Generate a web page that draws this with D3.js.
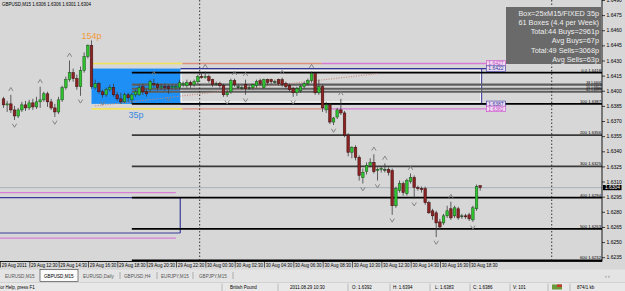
<!DOCTYPE html>
<html>
<head>
<meta charset="utf-8">
<script src="https://cdn.jsdelivr.net/npm/d3@7"></script>
<style>
  body { margin: 0; background: #d7d7d7; }
  svg { display: block; font-family: "Liberation Sans", Arial, sans-serif; }
</style>
</head>
<body>
<div id="chart"></div>
<script>
const W = 625, H = 291;
const plotRight = 602, plotBottom = 261.5;

// GBPUSD M15, bar 0 = 29 Aug 2011 10:30
const open = [1.6392,1.6386,1.6387,1.6381,1.6375,1.6381,1.6386,1.6383,1.6388,1.6384,
  1.6389,1.6391,1.6397,1.6389,1.6383,1.6379,1.6391,1.6403,1.6411,1.6418,
  1.6412,1.6404,1.6420,1.6434,1.6445,1.6403,1.6407,1.6399,1.6396,1.6401,
  1.6403,1.6396,1.6392,1.6389,1.6396,1.6391,1.6396,1.6396,1.6404,1.6399,
  1.6401,1.6407,1.6406,1.6403,1.6404,1.6404,1.6403,1.6403,1.6403,1.6406,
  1.6405,1.6408,1.6406,1.6409,1.6414,1.6413,1.6414,1.6411,1.6407,1.6407,
  1.6405,1.6396,1.6399,1.6410,1.6404,1.6403,1.6406,1.6403,1.6403,1.6405,
  1.6410,1.6403,1.6411,1.6411,1.6409,1.6411,1.6411,1.6407,1.6405,1.6402,
  1.6398,1.6400,1.6404,1.6407,1.6410,1.6417,1.6398,1.6404,1.6381,1.6386,
  1.6369,1.6374,1.6381,1.6378,1.6356,1.6339,1.6344,1.6334,1.6314,1.6320,
  1.6326,1.6329,1.6321,1.6322,1.6322,1.6322,1.6321,1.6286,1.6301,1.6308,
  1.6298,1.6310,1.6314,1.6304,1.6303,1.6303,1.6289,1.6281,1.6279,1.6270,
  1.6269,1.6276,1.6283,1.6276,1.6283,1.6276,1.6276,1.6277,1.6272,1.6283,
  1.6306];
const high = [1.6394,1.6390,1.6396,1.6385,1.6383,1.6389,1.6390,1.6391,1.6392,1.6394,
  1.6404,1.6399,1.6399,1.6392,1.6387,1.6394,1.6405,1.6414,1.6430,1.6422,
  1.6416,1.6424,1.6438,1.6446,1.6450,1.6411,1.6409,1.6401,1.6403,1.6406,
  1.6407,1.6399,1.6398,1.6398,1.6398,1.6398,1.6401,1.6406,1.6407,1.6402,
  1.6411,1.6412,1.6408,1.6407,1.6407,1.6406,1.6406,1.6406,1.6411,1.6409,
  1.6411,1.6410,1.6411,1.6416,1.6418,1.6419,1.6416,1.6412,1.6409,1.6409,
  1.6407,1.6401,1.6412,1.6412,1.6406,1.6405,1.6411,1.6405,1.6407,1.6411,
  1.6412,1.6412,1.6412,1.6412,1.6411,1.6412,1.6413,1.6409,1.6407,1.6404,
  1.6404,1.6406,1.6409,1.6412,1.6419,1.6418,1.6411,1.6406,1.6389,1.6388,
  1.6374,1.6383,1.6392,1.6380,1.6358,1.6345,1.6346,1.6336,1.6323,1.6329,
  1.6333,1.6337,1.6324,1.6325,1.6328,1.6324,1.6323,1.6305,1.6311,1.6310,
  1.6313,1.6318,1.6316,1.6306,1.6305,1.6305,1.6291,1.6283,1.6281,1.6273,
  1.6278,1.6286,1.6290,1.6286,1.6285,1.6278,1.6278,1.6279,1.6286,1.6307,
  1.6306];
const low = [1.6383,1.6379,1.6378,1.6371,1.6373,1.6379,1.6380,1.6381,1.6381,1.6382,
  1.6383,1.6389,1.6384,1.6381,1.6374,1.6377,1.6389,1.6401,1.6409,1.6409,
  1.6401,1.6395,1.6418,1.6432,1.6402,1.6401,1.6397,1.6393,1.6394,1.6399,
  1.6394,1.6390,1.6387,1.6388,1.6389,1.6387,1.6394,1.6395,1.6396,1.6394,
  1.6399,1.6403,1.6400,1.6401,1.6400,1.6397,1.6401,1.6401,1.6401,1.6404,
  1.6403,1.6403,1.6404,1.6407,1.6412,1.6412,1.6408,1.6404,1.6405,1.6403,
  1.6394,1.6394,1.6397,1.6404,1.6402,1.6401,1.6396,1.6401,1.6401,1.6403,
  1.6405,1.6402,1.6406,1.6407,1.6407,1.6405,1.6404,1.6402,1.6399,1.6394,
  1.6395,1.6398,1.6402,1.6405,1.6408,1.6396,1.6396,1.6379,1.6378,1.6367,
  1.6366,1.6372,1.6376,1.6354,1.6335,1.6333,1.6331,1.6311,1.6308,1.6317,
  1.6324,1.6318,1.6311,1.6319,1.6319,1.6316,1.6277,1.6284,1.6299,1.6296,
  1.6296,1.6308,1.6293,1.6301,1.6299,1.6287,1.6278,1.6272,1.6255,1.6263,
  1.6267,1.6274,1.6272,1.6274,1.6272,1.6273,1.6273,1.6271,1.6270,1.6281,
  1.6301];
const close = [1.6386,1.6387,1.6381,1.6375,1.6381,1.6386,1.6383,1.6388,1.6384,1.6389,
  1.6391,1.6397,1.6389,1.6383,1.6379,1.6391,1.6403,1.6411,1.6418,1.6412,
  1.6404,1.6420,1.6434,1.6445,1.6404,1.6407,1.6399,1.6396,1.6401,1.6403,
  1.6396,1.6392,1.6389,1.6396,1.6393,1.6396,1.6399,1.6403,1.6399,1.6397,
  1.6409,1.6406,1.6403,1.6404,1.6403,1.6402,1.6404,1.6404,1.6408,1.6407,
  1.6408,1.6406,1.6409,1.6414,1.6413,1.6414,1.6410,1.6406,1.6407,1.6405,
  1.6396,1.6398,1.6410,1.6406,1.6404,1.6403,1.6402,1.6403,1.6406,1.6409,
  1.6407,1.6411,1.6408,1.6409,1.6409,1.6407,1.6406,1.6404,1.6401,1.6398,
  1.6402,1.6404,1.6407,1.6410,1.6417,1.6398,1.6404,1.6383,1.6386,1.6369,
  1.6373,1.6381,1.6378,1.6356,1.6339,1.6344,1.6334,1.6316,1.6319,1.6326,
  1.6329,1.6320,1.6322,1.6323,1.6322,1.6319,1.6286,1.6303,1.6308,1.6299,
  1.6311,1.6314,1.6304,1.6303,1.6302,1.6289,1.6279,1.6276,1.6269,1.6265,
  1.6276,1.6281,1.6274,1.6284,1.6274,1.6276,1.6275,1.6273,1.6284,1.6305,
  1.6304];

const upFractals = [2,10,18,41,55,63,66,76,84,92,101,104,111,122];
const downFractals = [3,14,21,27,45,61,66,79,90,98,102,106,112,118,128];

const priceTicks = [1.6490,1.6475,1.6460,1.6445,1.6430,1.6415,1.6400,1.6385,1.6370,
  1.6355,1.6340,1.6325,1.6310,1.6295,1.6280,1.6265,1.6250,1.6235];
const timeLabels = ["29 Aug 2011","29 Aug 12:30","29 Aug 14:30","29 Aug 16:30","29 Aug 18:30",
  "29 Aug 20:30","29 Aug 22:30","30 Aug 00:30","30 Aug 02:30","30 Aug 04:30","30 Aug 06:30",
  "30 Aug 08:30","30 Aug 10:30","30 Aug 12:30","30 Aug 14:30","30 Aug 16:30","30 Aug 18:30"];
const barsPerLabel = 8;
const daySeparators = [53.5, 149.5];

// box breakout objects
const boxLevels = [1.6422, 1.6387];
const outerLevels = [1.6427, 1.6382];
const boxBars = [24, 48.3];
const breakoutBar = 86.8;
const projEndBar = 130.4;
const tagBar = 131.7;
const prevBoxLevels = [1.6294, 1.6259];
const prevOuterLevels = [1.6299, 1.6254];
const prevBoxEnd = 48.2, prevOuterEnd = 47;

const fibNames = ["0.0","38","50","62","100","200","300","400","500","600"];
const fibPrices = [1.6418,1.6406,1.6402,1.6399,1.6387,1.6356,1.6325,1.6294,1.6263,1.6232];
const fibStartBar = 35;

const trendBars = [25, 102];
const trendPrices = [1.6385, 1.6417];

const bidPrice = 1.6304;
const moveLabels = ["154p", "35p"];

const infoLines = ["Box=25xM15/FIXED 35p","61 Boxes (4.4 per Week)","Total:44 Buys=2961p",
  "Avg Buys=67p","Total:49 Sells=3068p","Avg Sells=63p"];

const tabs = ["EURUSD,M15","GBPUSD,M15","EURUSD,Daily","GBPUSD,H4","EURJPY,M15","GBPJPY,M15"];
const activeTab = 1;

const svg = d3.select("#chart").append("svg")
  .attr("width", W)
  .attr("height", H);

svg.append("rect").attr("width", W).attr("height", H).attr("fill", "#d7d7d7");

svg.append("defs").append("clipPath").attr("id", "plotClip")
  .append("rect").attr("width", plotRight).attr("height", plotBottom);

const x = d3.scaleLinear().domain([0, 130]).range([3.5, 480.2]);
const y = d3.scaleLinear().domain([1.6235, 1.6475]).range([257.2, 15.1]);

const g = svg.append("g").attr("clip-path", "url(#plotClip)");

const bars = open.map((o, i) => ({ i, o, h: high[i], l: low[i], c: close[i] }));

function hline(i0, i1, p, color, w, dash) {
  const l = g.append("line")
    .attr("x1", typeof i0 === "number" ? x(i0) : 0)
    .attr("x2", typeof i1 === "number" ? x(i1) : plotRight)
    .attr("y1", y(p)).attr("y2", y(p))
    .attr("stroke", color).attr("stroke-width", w);
  if (dash) l.attr("stroke-dasharray", dash);
  return l;
}

// blue range box
g.append("rect")
  .attr("x", x(boxBars[0]))
  .attr("y", y(boxLevels[0]))
  .attr("width", x(boxBars[1]) - x(boxBars[0]))
  .attr("height", y(boxLevels[1]) - y(boxLevels[0]))
  .attr("fill", "#1e8ff5");

// previous box lines coming in from the left
prevOuterLevels.forEach(p => hline(null, prevOuterEnd, p, "#d77fd7", 1.3));
prevBoxLevels.forEach(p => hline(null, prevBoxEnd, p, "#3c3c9c", 1.2));
g.append("line")
  .attr("x1", x(prevBoxEnd)).attr("x2", x(prevBoxEnd))
  .attr("y1", y(prevBoxLevels[0])).attr("y2", y(prevBoxLevels[1]))
  .attr("stroke", "#3c3c9c").attr("stroke-width", 1.2);

// outer band lines: yellow inside box, salmon until breakout, magenta after
outerLevels.forEach(p => {
  hline(boxBars[0], boxBars[1] + 0.5, p, "#f2e35a", 1.6);
  hline(boxBars[1] + 0.5, breakoutBar, p, "#e0907e", 1.3);
  hline(breakoutBar, tagBar, p, "#d57ad5", 1.3);
});

// projected box edges
g.append("rect")
  .attr("x", x(boxBars[1]) + 0.5)
  .attr("y", y(boxLevels[0]) + 2)
  .attr("width", x(projEndBar) - x(boxBars[1]) - 1.5)
  .attr("height", y(boxLevels[1]) - y(boxLevels[0]) - 4)
  .attr("fill", "none").attr("stroke", "#f6f6f6").attr("stroke-width", 1.2);
boxLevels.forEach(p => hline(boxBars[1], tagBar, p, "#34349a", 1.2));
g.append("line")
  .attr("x1", x(projEndBar)).attr("x2", x(projEndBar))
  .attr("y1", y(boxLevels[0])).attr("y2", y(boxLevels[1]))
  .attr("stroke", "#34349a").attr("stroke-width", 1);

// fibo extension levels
const isMid = name => ["38", "50", "62"].includes(name);
fibNames.forEach((name, k) => {
  const mid = isMid(name);
  hline(fibStartBar, null, fibPrices[k], mid ? "#5e5e5e" : (name === "200" || name === "300" ? "#3a3a3a" : "#000"), mid ? 2.2 : 1.7);
});

// bid line
hline(null, null, bidPrice, "#aeb8c0", 1.2);

// dotted trend line
g.append("line")
  .attr("x1", x(trendBars[0])).attr("y1", y(trendPrices[0]))
  .attr("x2", x(trendBars[1])).attr("y2", y(trendPrices[1]))
  .attr("stroke", "#c98574").attr("stroke-width", 1)
  .attr("stroke-dasharray", "1,1.5");

// day separators
daySeparators.forEach(b => {
  g.append("line")
    .attr("x1", x(b)).attr("x2", x(b))
    .attr("y1", 0).attr("y2", plotBottom)
    .attr("stroke", "#222").attr("stroke-width", 0.9)
    .attr("stroke-dasharray", "1.5,2");
});

// candles
const bw = 2.6;
g.selectAll(".wick").data(bars).join("line")
  .attr("class", "wick")
  .attr("x1", d => x(d.i)).attr("x2", d => x(d.i))
  .attr("y1", d => y(d.h)).attr("y2", d => y(d.l))
  .attr("stroke", "#3c3c3c").attr("stroke-width", 0.8);

g.selectAll(".body").data(bars).join("rect")
  .attr("class", "body")
  .attr("x", d => x(d.i) - bw / 2)
  .attr("y", d => y(Math.max(d.o, d.c)))
  .attr("width", bw)
  .attr("height", d => Math.max(0.9, Math.abs(y(d.o) - y(d.c))))
  .attr("fill", d => d.c > d.o ? "#2dc42d" : (d.c < d.o ? "#8b2323" : "#333"))
  .attr("stroke", d => d.c >= d.o ? "#1d4d1d" : "#3a0c0c")
  .attr("stroke-width", 0.5);

// fractal arrows
g.selectAll(".fup").data(upFractals).join("path")
  .attr("class", "fup")
  .attr("transform", i => `translate(${x(i)},${y(high[i]) - 5.5})`)
  .attr("d", "M-2.2,1.8L0,-1.8L2.2,1.8")
  .attr("fill", "none").attr("stroke", "#7c7c7c").attr("stroke-width", 0.9);
g.selectAll(".fdn").data(downFractals).join("path")
  .attr("class", "fdn")
  .attr("transform", i => `translate(${x(i)},${y(low[i]) + 5.5})`)
  .attr("d", "M-2.2,-1.8L0,1.8L2.2,-1.8")
  .attr("fill", "none").attr("stroke", "#7c7c7c").attr("stroke-width", 0.9);

// move labels
g.append("text")
  .attr("x", x(boxBars[0])).attr("y", y(high[boxBars[0]]) - 1.5)
  .attr("text-anchor", "middle").attr("font-size", "9px")
  .attr("fill", "#f09a3a").text(moveLabels[0]);
g.append("text")
  .attr("x", x((boxBars[0] + boxBars[1]) / 2)).attr("y", y(outerLevels[1]) + 9.5)
  .attr("text-anchor", "middle").attr("font-size", "9px")
  .attr("fill", "#3a88e0").text(moveLabels[1]);

// fibo labels
fibNames.forEach((name, k) => {
  g.append("text")
    .attr("x", plotRight - 1).attr("y", y(fibPrices[k]) - (isMid(name) ? 0.9 : 1))
    .attr("text-anchor", "end").attr("font-size", isMid(name) ? "3.3px" : "4.2px")
    .attr("fill", "#000")
    .text(name + " " + fibPrices[k].toFixed(4));
});

// price tags of the box lines
const tags = [
  { p: outerLevels[0], c: "#cc44cc" }, { p: boxLevels[0], c: "#3434a0" },
  { p: boxLevels[1], c: "#3434a0" }, { p: outerLevels[1], c: "#cc44cc" }
];
tags.forEach(t => {
  g.append("rect")
    .attr("x", x(tagBar)).attr("y", y(t.p) - 2.8)
    .attr("width", 19).attr("height", 5.6)
    .attr("fill", "#ecdcef").attr("stroke", t.c).attr("stroke-width", 0.6);
  g.append("text")
    .attr("x", x(tagBar) + 9.5).attr("y", y(t.p) + 1.8)
    .attr("text-anchor", "middle").attr("font-size", "5px")
    .attr("fill", t.c).text(t.p.toFixed(4));
});

// info panel
g.append("rect")
  .attr("x", 506).attr("y", 7).attr("width", 95).attr("height", 57)
  .attr("fill", "#6a6a6a");
g.selectAll(".info").data(infoLines).join("text")
  .attr("class", "info")
  .attr("x", 599).attr("y", (d, k) => 16 + k * 9.15)
  .attr("text-anchor", "end").attr("font-size", "7.3px")
  .attr("fill", "#eeeeee").text(d => d);

// header
svg.append("text")
  .attr("x", 2).attr("y", 5.5).attr("font-size", "4.5px").attr("fill", "#000")
  .text("GBPUSD,M15  " + [open[130], high[130], low[130], close[130]].map(v => v.toFixed(4)).join(" "));

// frame
svg.append("line").attr("x1", plotRight).attr("x2", plotRight).attr("y1", 0).attr("y2", plotBottom)
  .attr("stroke", "#000").attr("stroke-width", 0.9);
svg.append("line").attr("x1", 0).attr("x2", plotRight).attr("y1", plotBottom).attr("y2", plotBottom)
  .attr("stroke", "#000").attr("stroke-width", 0.9);

// price axis
const yAxis = d3.axisRight(y)
  .tickValues(priceTicks)
  .tickSize(3)
  .tickPadding(1.5)
  .tickFormat(d3.format(".4f"));
const ya = svg.append("g").attr("transform", `translate(${plotRight},0)`).call(yAxis);
ya.select(".domain").remove();
ya.selectAll("line").attr("stroke", "#000").attr("stroke-width", 0.7);
ya.selectAll("text").attr("font-size", "5px").attr("fill", "#000")
  .attr("font-family", "Liberation Sans, Arial, sans-serif");

// current price tag
svg.append("rect").attr("x", plotRight + 1).attr("y", y(bidPrice) - 2.6)
  .attr("width", 18.5).attr("height", 5.2).attr("fill", "#000");
svg.append("text").attr("x", plotRight + 3).attr("y", y(bidPrice) + 1.8)
  .attr("font-size", "4.9px").attr("fill", "#fff").text(bidPrice.toFixed(4));

// time axis
const xAxis = d3.axisBottom(x)
  .tickValues(timeLabels.map((t, k) => k * barsPerLabel))
  .tickSize(6)
  .tickFormat((d, k) => timeLabels[k]);
const xa = svg.append("g").attr("transform", `translate(-3.5,${plotBottom})`).call(xAxis);
xa.select(".domain").remove();
xa.selectAll("line").attr("stroke", "#000").attr("stroke-width", 0.6);
xa.selectAll("text")
  .attr("text-anchor", "start").attr("x", 1.2).attr("y", 2.2)
  .attr("font-size", "4.5px").attr("fill", "#000")
  .attr("font-family", "Liberation Sans, Arial, sans-serif");

// tab bar
svg.append("rect").attr("x", 0).attr("y", 269.5).attr("width", W).attr("height", 13)
  .attr("fill", "#e4e4e4");
const tabX = [5, 44, 83, 124, 161, 199];
const tabSep = [120, 157, 193, 233];
svg.append("rect").attr("x", 40).attr("y", 269.5).attr("width", 38).attr("height", 12)
  .attr("fill", "#fbfbfb").attr("stroke", "#333").attr("stroke-width", 0.6);
tabs.forEach((t, k) => {
  svg.append("text").attr("x", tabX[k]).attr("y", 277.6)
    .attr("font-size", "4.6px").attr("fill", k === activeTab ? "#000" : "#555").text(t);
});
tabSep.forEach(sx => svg.append("line").attr("x1", sx).attr("x2", sx).attr("y1", 272).attr("y2", 279)
  .attr("stroke", "#888").attr("stroke-width", 0.6));
svg.append("text").attr("x", 605).attr("y", 277.5).attr("font-size", "5px").attr("fill", "#666").text("‹  ›");

// status bar
svg.append("rect").attr("x", 0).attr("y", 282.5).attr("width", W).attr("height", 8.5)
  .attr("fill", "#e8e8e8");
svg.append("line").attr("x1", 0).attr("x2", W).attr("y1", 282.5).attr("y2", 282.5)
  .attr("stroke", "#c8c8c8").attr("stroke-width", 0.6);
const statusText = ["For Help, press F1", "British Pound", "2011.08.29 10:30",
  "O: " + open[0].toFixed(4), "H: " + high[0].toFixed(4), "L: " + low[0].toFixed(4),
  "C: " + close[0].toFixed(4), "V: 101", "874/1 kb"];
const statusX = [-2.5, 230, 290, 352, 393, 435, 473, 513, 577];
const statusSep = [222, 278, 348, 390, 430, 470, 510, 548, 570];
statusText.forEach((t, k) => svg.append("text").attr("x", statusX[k]).attr("y", 289.3)
  .attr("font-size", "4.5px").attr("fill", "#000").text(t));
statusSep.forEach(sx => svg.append("line").attr("x1", sx).attr("x2", sx).attr("y1", 283.5).attr("y2", 291)
  .attr("stroke", "#9a9a9a").attr("stroke-width", 0.6));
// connection icon
svg.append("rect").attr("x", 552).attr("y", 284.5).attr("width", 10).attr("height", 5).attr("fill", "#6a9a3a");
svg.append("rect").attr("x", 557).attr("y", 284.5).attr("width", 5).attr("height", 2.5).attr("fill", "#c0392b");
</script>
</body>
</html>
